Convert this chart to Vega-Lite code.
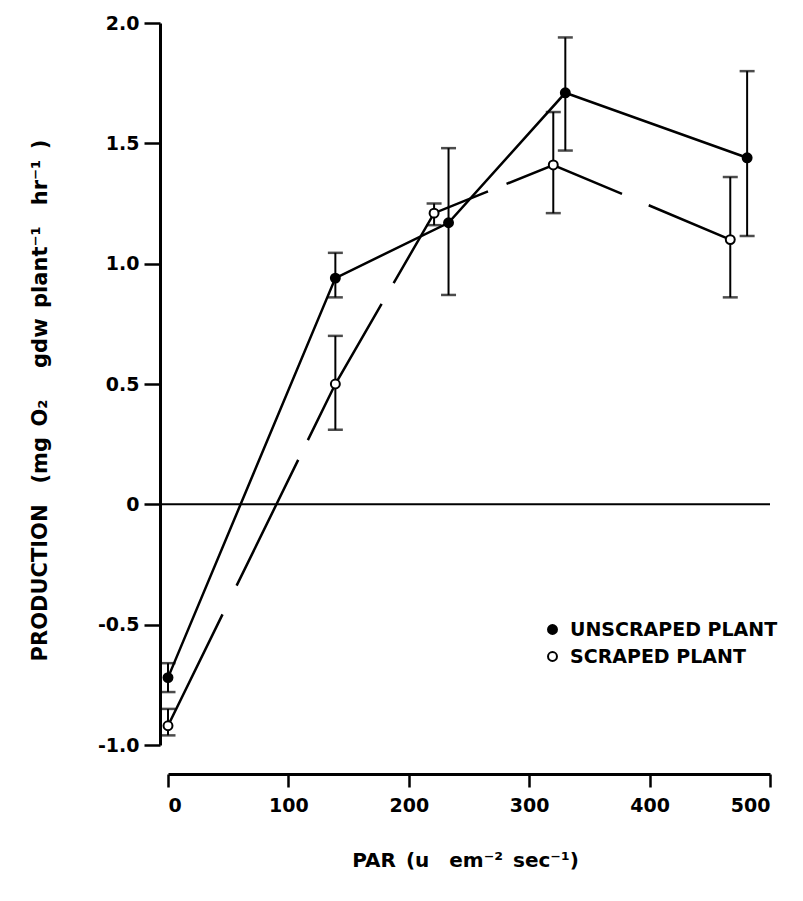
{
  "$schema": "https://vega.github.io/schema/vega-lite/v6.json",
  "autosize": {"type": "none"},
  "width": 602,
  "height": 722,
  "padding": {"left": 168, "top": 23, "right": 33, "bottom": 156},
  "background": "white",
  "config": {
    "view": {"stroke": null},
    "font": "DejaVu Sans",
    "axis": {
      "domainColor": "black",
      "domainWidth": 3,
      "tickColor": "black",
      "tickWidth": 2.5,
      "grid": false,
      "labelColor": "black",
      "labelFont": "DejaVu Sans",
      "labelFontWeight": "bold",
      "labelFontSize": 19,
      "titleColor": "black",
      "titleFont": "DejaVu Sans",
      "titleFontWeight": "bold",
      "titleFontSize": 20
    }
  },
  "datasets": {
    "production": [
      {"treatment": "UNSCRAPED PLANT", "par": 0, "prod": -0.72, "lo": -0.78, "hi": -0.66},
      {"treatment": "UNSCRAPED PLANT", "par": 139, "prod": 0.94, "lo": 0.86, "hi": 1.045},
      {"treatment": "UNSCRAPED PLANT", "par": 233, "prod": 1.17, "lo": 0.87, "hi": 1.48},
      {"treatment": "UNSCRAPED PLANT", "par": 330, "prod": 1.71, "lo": 1.47, "hi": 1.94},
      {"treatment": "UNSCRAPED PLANT", "par": 481, "prod": 1.44, "lo": 1.115, "hi": 1.80},
      {"treatment": "SCRAPED PLANT", "par": 0, "prod": -0.92, "lo": -0.96, "hi": -0.85},
      {"treatment": "SCRAPED PLANT", "par": 139, "prod": 0.50, "lo": 0.31, "hi": 0.70},
      {"treatment": "SCRAPED PLANT", "par": 221, "prod": 1.21, "lo": 1.16, "hi": 1.25},
      {"treatment": "SCRAPED PLANT", "par": 320, "prod": 1.41, "lo": 1.21, "hi": 1.63},
      {"treatment": "SCRAPED PLANT", "par": 467, "prod": 1.10, "lo": 0.86, "hi": 1.36}
    ],
    "zero": [
      {"par": -7, "prod": 0},
      {"par": 500, "prod": 0}
    ]
  },
  "layer": [
    {
      "data": {"name": "zero"},
      "mark": {"type": "line", "color": "black", "strokeWidth": 2, "clip": false},
      "encoding": {
        "x": {"field": "par", "type": "quantitative", "scale": {"domain": [0, 500]}},
        "y": {"field": "prod", "type": "quantitative", "scale": {"domain": [-1, 2]}}
      }
    },
    {
      "data": {"name": "production"},
      "mark": {"type": "errorbar", "color": "black", "thickness": 2, "ticks": {"size": 15, "thickness": 2.5, "color": "black"}},
      "encoding": {
        "x": {"field": "par", "type": "quantitative"},
        "y": {"field": "lo", "type": "quantitative", "title": "PRODUCTION\u2003(mg\u2002O₂\u2003\u2002gdw\u2002plant⁻¹\u2003hr⁻¹\u2002)"},
        "y2": {"field": "hi"}
      }
    },
    {
      "data": {"name": "production"},
      "transform": [{"filter": "datum.treatment === 'UNSCRAPED PLANT'"}],
      "mark": {"type": "line", "color": "black", "strokeWidth": 2.5},
      "encoding": {
        "x": {"field": "par", "type": "quantitative"},
        "y": {"field": "prod", "type": "quantitative"}
      }
    },
    {
      "data": {"name": "production"},
      "transform": [{"filter": "datum.treatment === 'SCRAPED PLANT'"}],
      "mark": {
        "type": "line",
        "color": "black",
        "strokeWidth": 2.5,
        "strokeDash": [124, 32, 140, 22, 155, 24, 139, 20, 125, 29, 300]
      },
      "encoding": {
        "x": {"field": "par", "type": "quantitative"},
        "y": {"field": "prod", "type": "quantitative"}
      }
    },
    {
      "data": {"name": "production"},
      "mark": {"type": "circle", "size": 80, "stroke": "black", "strokeWidth": 2, "opacity": 1},
      "encoding": {
        "x": {
          "field": "par",
          "type": "quantitative",
          "axis": {
            "title": "PAR\u2002(u\u2003em⁻²\u2002sec⁻¹)",
            "values": [0, 100, 200, 300, 400, 500],
            "offset": 29,
            "tickSize": 13,
            "labelPadding": 9,
            "titleX": 297,
            "titleY": 86,
            "titleAlign": "center",
            "titleBaseline": "middle"
          }
        },
        "y": {
          "field": "prod",
          "type": "quantitative",
          "title": "PRODUCTION\u2003(mg\u2002O₂\u2003\u2002gdw\u2002plant⁻¹\u2003hr⁻¹\u2002)",
          "axis": {
            "values": [-1, -0.5, 0, 0.5, 1, 1.5, 2],
            "labelExpr": "datum.value == 0 ? '0' : replace(format(datum.value, '.1f'), '\u2212', '-')",
            "offset": 8,
            "tickSize": 16,
            "labelPadding": 5,
            "titleAngle": -90,
            "titleFontSize": 21,
            "titleX": -120,
            "titleY": 377,
            "titleAlign": "center",
            "titleBaseline": "middle"
          }
        },
        "fill": {
          "field": "treatment",
          "type": "nominal",
          "scale": {"domain": ["UNSCRAPED PLANT", "SCRAPED PLANT"], "range": ["black", "white"]},
          "legend": {
            "title": null,
            "orient": "none",
            "legendX": 375,
            "legendY": 597,
            "symbolType": "circle",
            "symbolSize": 80,
            "symbolStrokeColor": "black",
            "symbolStrokeWidth": 2,
            "symbolOpacity": 1,
            "labelFont": "DejaVu Sans",
            "labelFontWeight": "bold",
            "labelFontSize": 19,
            "labelColor": "black",
            "labelOffset": 8,
            "rowPadding": 7,
            "labelLimit": 400
          }
        }
      }
    }
  ]
}
